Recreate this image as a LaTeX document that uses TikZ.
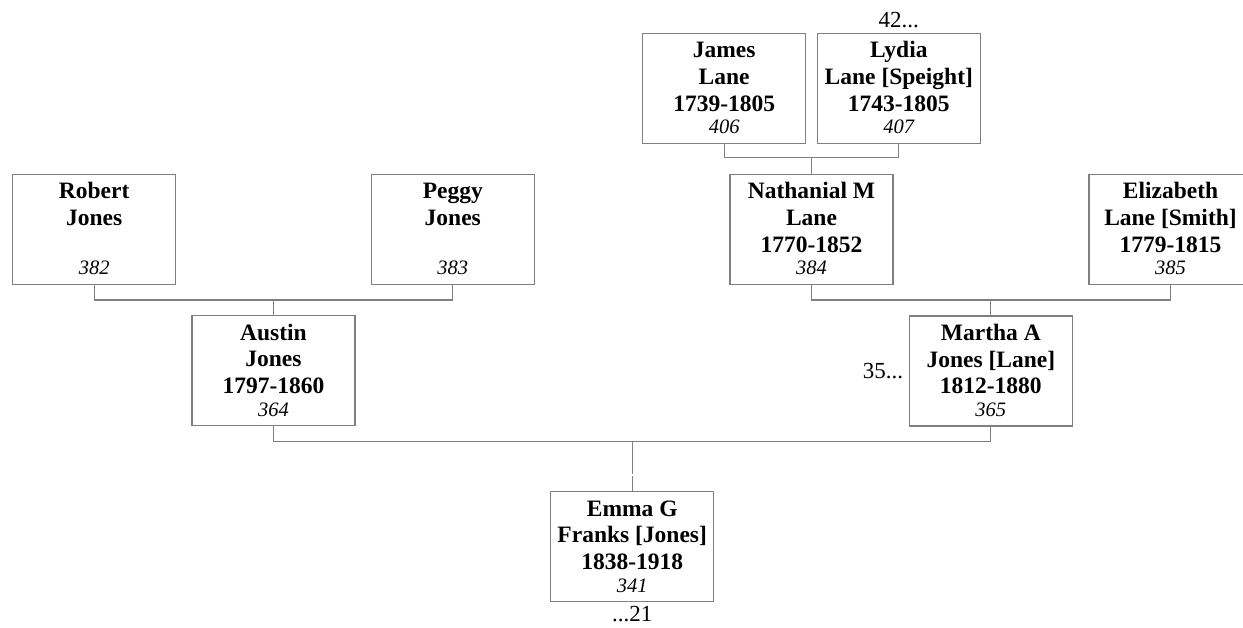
\documentclass[tikz,border=0pt]{standalone}
\usepackage{fontspec}
\setmainfont{Liberation Serif}
\definecolor{linegray}{RGB}{128,128,128}
\newcommand\pcard[2]{\parbox[t][110pt][t]{163pt}{\centering\fontsize{23.5}{26.6}\selectfont\bfseries\rule{0pt}{24.5pt}#1\par\fontsize{20.5}{22.8}\selectfont\mdseries\itshape #2\par}}
\tikzset{
  card/.style={draw=linegray, line width=1.3pt, inner sep=0pt, outer sep=0pt, anchor=north west},
  conn/.style={draw=linegray, line width=1.3pt},
  lbl/.style={inner sep=0pt, font=\fontsize{23}{26}\selectfont}
}
\begin{document}
\begin{tikzpicture}[x=1pt,y=-1pt]
\useasboundingbox (0,0) rectangle (1243,627);
\clip (0,0) rectangle (1243,627);
% boxes
\node[card] (james) at (642.7,33.3) {\pcard{James\\Lane\\1739-1805}{406}};
\node[card] (lydia) at (817.3,33.3) {\pcard{Lydia\\Lane [Speight]\\1743-1805}{407}};
\node[card] (robert) at (12.7,174.3) {\pcard{Robert\\Jones\\~}{382}};
\node[card] (peggy) at (371.3,174.3) {\pcard{Peggy\\Jones\\~}{383}};
\node[card] (nath) at (730,174.3) {\pcard{Nathanial M\\Lane\\1770-1852}{384}};
\node[card] (eliz) at (1089,174.3) {\pcard{Elizabeth\\Lane [Smith]\\1779-1815}{385}};
\node[card] (austin) at (192,315.7) {\pcard{Austin\\Jones\\1797-1860}{364}};
\node[card] (martha) at (909.3,316) {\pcard{Martha A\\Jones [Lane]\\1812-1880}{365}};
\node[card] (emma) at (550.7,491.7) {\pcard{Emma G\\Franks [Jones]\\1838-1918}{341}};
% labels
\node[lbl, anchor=base] (l42) at ([yshift=5.8pt]lydia.north) {42...};
\node[lbl, anchor=east] (l35) at ([xshift=-6pt]martha.west) {35...};
\node[lbl, anchor=base] (l21) at ([yshift=-20pt]emma.south) {...21};
% connectors
\path (james.south) ++(0,14.4) coordinate (jlL);
\draw[conn] (james.south) -- (jlL) -| (lydia.south);
\draw[conn] (nath.north) -- (nath.north |- jlL);
\path (robert.south) ++(0,15.7) coordinate (rpL);
\draw[conn] (robert.south) -- (rpL) -| (peggy.south);
\draw[conn] (austin.north) -- (austin.north |- rpL);
\path (nath.south) ++(0,15.7) coordinate (neL);
\draw[conn] (nath.south) -- (neL) -| (eliz.south);
\draw[conn] (martha.north) -- (martha.north |- neL);
\path (austin.south) ++(0,16) coordinate (amL);
\draw[conn] (austin.south) -- (amL) -| (martha.south);
\path (emma.north) ++(0,-16) coordinate (eg1);
\path (emma.north) ++(0,-18) coordinate (eg2);
\draw[conn] (emma.north) -- (eg1);
\draw[conn] (eg2) -- (eg2 |- amL);
\end{tikzpicture}
\end{document}
